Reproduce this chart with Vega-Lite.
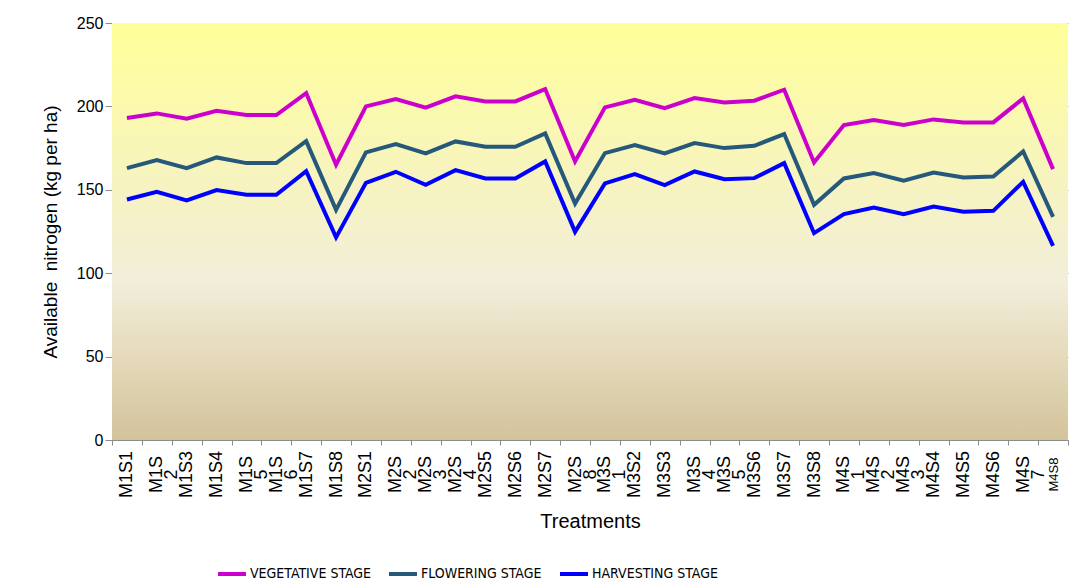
{
  "$schema": "https://vega.github.io/schema/vega-lite/v6.json",
  "width": 956,
  "height": 417,
  "autosize": {"type": "none"},
  "padding": {"left": 112, "top": 23, "right": 2, "bottom": 144},
  "background": "#FFFFFF",
  "config": {
    "view": {"stroke": null},
    "font": "Liberation Sans"
  },
  "layer": [
    {
      "data": {"values": [{"lo": 0, "hi": 250}]},
      "mark": {
        "type": "rect",
        "fill": {
          "gradient": "linear",
          "x1": 0, "y1": 0, "x2": 0, "y2": 1,
          "stops": [
            {"offset": 0, "color": "#FFFF99"},
            {"offset": 0.4, "color": "#F6F3C2"},
            {"offset": 0.62, "color": "#F2EEDB"},
            {"offset": 0.8, "color": "#E5DABB"},
            {"offset": 1, "color": "#D3C39B"}
          ]
        }
      },
      "encoding": {
        "y": {"field": "hi", "type": "quantitative", "scale": {"domain": [0, 250]}},
        "y2": {"field": "lo"}
      }
    },
    {
      "data": {
        "values": [
          {"t": "M1S1", "VEGETATIVE STAGE": 193.0, "FLOWERING STAGE": 163.0, "HARVESTING STAGE": 144.2},
          {"t": "M1S2", "VEGETATIVE STAGE": 195.8, "FLOWERING STAGE": 167.8, "HARVESTING STAGE": 148.8},
          {"t": "M1S3", "VEGETATIVE STAGE": 192.6, "FLOWERING STAGE": 163.0, "HARVESTING STAGE": 143.6},
          {"t": "M1S4", "VEGETATIVE STAGE": 197.4, "FLOWERING STAGE": 169.4, "HARVESTING STAGE": 149.8},
          {"t": "M1S5", "VEGETATIVE STAGE": 194.8, "FLOWERING STAGE": 166.0, "HARVESTING STAGE": 147.0},
          {"t": "M1S6", "VEGETATIVE STAGE": 194.8, "FLOWERING STAGE": 166.0, "HARVESTING STAGE": 147.0},
          {"t": "M1S7", "VEGETATIVE STAGE": 208.0, "FLOWERING STAGE": 179.2, "HARVESTING STAGE": 161.2},
          {"t": "M1S8", "VEGETATIVE STAGE": 165.0, "FLOWERING STAGE": 138.0, "HARVESTING STAGE": 121.5},
          {"t": "M2S1", "VEGETATIVE STAGE": 200.0, "FLOWERING STAGE": 172.4, "HARVESTING STAGE": 154.2},
          {"t": "M2S2", "VEGETATIVE STAGE": 204.4, "FLOWERING STAGE": 177.4, "HARVESTING STAGE": 160.8},
          {"t": "M2S3", "VEGETATIVE STAGE": 199.2, "FLOWERING STAGE": 171.8, "HARVESTING STAGE": 153.0},
          {"t": "M2S4", "VEGETATIVE STAGE": 206.0, "FLOWERING STAGE": 179.0, "HARVESTING STAGE": 161.8},
          {"t": "M2S5", "VEGETATIVE STAGE": 203.0, "FLOWERING STAGE": 175.8, "HARVESTING STAGE": 156.8},
          {"t": "M2S6", "VEGETATIVE STAGE": 203.0, "FLOWERING STAGE": 175.8, "HARVESTING STAGE": 156.8},
          {"t": "M2S7", "VEGETATIVE STAGE": 210.4, "FLOWERING STAGE": 183.8, "HARVESTING STAGE": 167.0},
          {"t": "M2S8", "VEGETATIVE STAGE": 167.0, "FLOWERING STAGE": 141.8, "HARVESTING STAGE": 124.8},
          {"t": "M3S1", "VEGETATIVE STAGE": 199.4, "FLOWERING STAGE": 172.0, "HARVESTING STAGE": 153.8},
          {"t": "M3S2", "VEGETATIVE STAGE": 204.0, "FLOWERING STAGE": 176.8, "HARVESTING STAGE": 159.4},
          {"t": "M3S3", "VEGETATIVE STAGE": 199.0, "FLOWERING STAGE": 171.8, "HARVESTING STAGE": 152.8},
          {"t": "M3S4", "VEGETATIVE STAGE": 205.0, "FLOWERING STAGE": 178.0, "HARVESTING STAGE": 161.0},
          {"t": "M3S5", "VEGETATIVE STAGE": 202.4, "FLOWERING STAGE": 175.0, "HARVESTING STAGE": 156.4},
          {"t": "M3S6", "VEGETATIVE STAGE": 203.4, "FLOWERING STAGE": 176.4, "HARVESTING STAGE": 157.0},
          {"t": "M3S7", "VEGETATIVE STAGE": 210.0, "FLOWERING STAGE": 183.4, "HARVESTING STAGE": 166.0},
          {"t": "M3S8", "VEGETATIVE STAGE": 166.4, "FLOWERING STAGE": 141.0, "HARVESTING STAGE": 124.0},
          {"t": "M4S1", "VEGETATIVE STAGE": 188.8, "FLOWERING STAGE": 156.8, "HARVESTING STAGE": 135.4},
          {"t": "M4S2", "VEGETATIVE STAGE": 191.8, "FLOWERING STAGE": 160.0, "HARVESTING STAGE": 139.4},
          {"t": "M4S3", "VEGETATIVE STAGE": 188.8, "FLOWERING STAGE": 155.4, "HARVESTING STAGE": 135.4},
          {"t": "M4S4", "VEGETATIVE STAGE": 192.2, "FLOWERING STAGE": 160.4, "HARVESTING STAGE": 140.0},
          {"t": "M4S5", "VEGETATIVE STAGE": 190.4, "FLOWERING STAGE": 157.4, "HARVESTING STAGE": 136.8},
          {"t": "M4S6", "VEGETATIVE STAGE": 190.4, "FLOWERING STAGE": 158.0, "HARVESTING STAGE": 137.4},
          {"t": "M4S7", "VEGETATIVE STAGE": 204.8, "FLOWERING STAGE": 173.0, "HARVESTING STAGE": 154.8},
          {"t": "M4S8", "VEGETATIVE STAGE": 162.4, "FLOWERING STAGE": 133.8, "HARVESTING STAGE": 116.4}
        ]
      },
      "transform": [
        {"fold": ["VEGETATIVE STAGE", "FLOWERING STAGE", "HARVESTING STAGE"], "as": ["stage", "value"]}
      ],
      "mark": {"type": "line", "strokeWidth": 4, "strokeJoin": "miter"},
      "encoding": {
        "x": {
          "field": "t",
          "type": "nominal",
          "sort": null,
          "bandPosition": 0.5,
          "scale": {"type": "band", "paddingInner": 0, "paddingOuter": 0},
          "axis": {
            "title": "Treatments",
            "titleFont": "Liberation Sans",
            "titleFontSize": 20,
            "titleFontWeight": "normal",
            "titleColor": "#000000",
            "titlePadding": 14,
            "labelAngle": -90,
            "labelAlign": "center",
            "labelBaseline": "middle",
            "labelPadding": 29,
            "labelFont": "Liberation Sans",
            "labelFontSize": {"condition": {"test": "datum.value == 'M4S8'", "value": 13}, "value": 18},
            "labelColor": "#000000",
            "labelLineHeight": 15,
            "labelOverlap": false,
            "labelExpr": "indexof(['M1S2','M1S5','M1S6','M2S2','M2S3','M2S4','M2S8','M3S1','M3S4','M3S5','M4S1','M4S2','M4S3','M4S7'], datum.value) >= 0 ? [slice(datum.value, 0, 3), slice(datum.value, 3)] : datum.value",
            "tickBand": "extent",
            "tickSize": 5,
            "tickColor": "#8C8C8C",
            "domainColor": "#8C8C8C",
            "grid": false
          }
        },
        "y": {
          "field": "value",
          "type": "quantitative",
          "scale": {"domain": [0, 250]},
          "axis": {
            "title": "Available\u00a0 nitrogen (kg per ha)",
            "titleFont": "Liberation Sans",
            "titleFontSize": 19,
            "titleFontWeight": "normal",
            "titleColor": "#000000",
            "titlePadding": 16,
            "values": [0, 50, 100, 150, 200, 250],
            "labelFont": "Liberation Sans",
            "labelFontSize": 16,
            "labelColor": "#000000",
            "labelPadding": 2,
            "tickSize": 7,
            "tickColor": "#8C8C8C",
            "domainColor": "#8C8C8C",
            "grid": true,
            "gridColor": "#9A9786",
            "gridWidth": 1.2
          }
        },
        "color": {
          "field": "stage",
          "type": "nominal",
          "sort": null,
          "scale": {
            "domain": ["VEGETATIVE STAGE", "FLOWERING STAGE", "HARVESTING STAGE"],
            "range": ["#CC00CC", "#25587A", "#0000FF"]
          },
          "legend": {
            "title": null,
            "orient": "none",
            "direction": "horizontal",
            "legendX": 104,
            "legendY": 535,
            "symbolType": "stroke",
            "symbolSize": 784,
            "symbolStrokeWidth": 4,
            "labelFont": "Liberation Sans Narrow, DejaVu Sans Condensed, Liberation Sans",
            "labelFontSize": 14,
            "labelColor": "#000000",
            "labelOffset": 2,
            "gridAlign": "all",
            "columnPadding": 5
          }
        }
      }
    }
  ]
}
